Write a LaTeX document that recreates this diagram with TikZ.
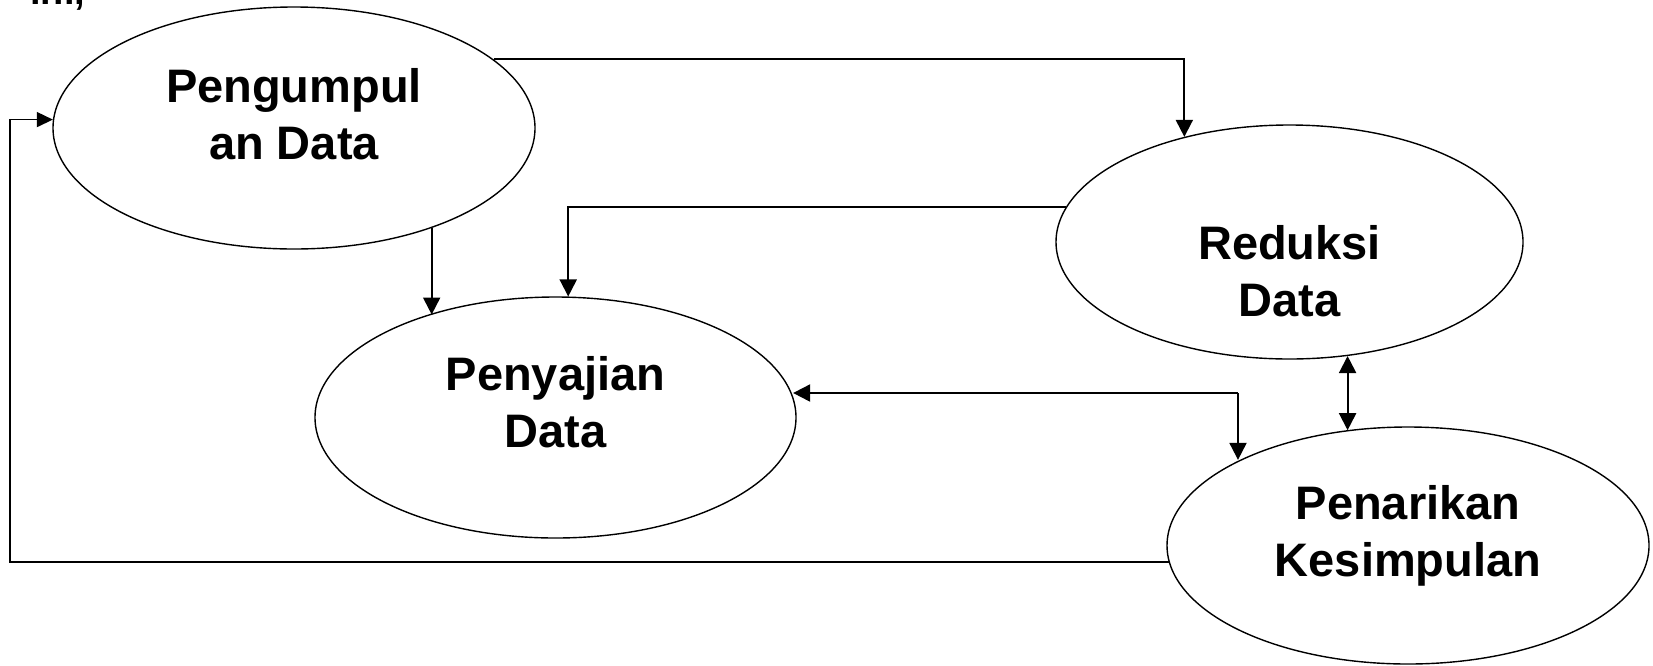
\documentclass[tikz,border=0pt]{standalone}
\usepackage{fontspec}
\setmainfont{Liberation Sans}
\usetikzlibrary{shapes.geometric,arrows.meta}
\begin{document}
\begin{tikzpicture}[x=0.5pt,y=-0.5pt,
  bubble/.style={draw,ellipse,line width=0.7pt,inner sep=0pt},
  lbl/.style={anchor=base,inner sep=0pt,font=\bfseries\fontsize{23.5}{28}\selectfont},
  tip/.style={Triangle[length=8.5pt,width=8.5pt]},
  conn/.style={line width=1pt,-{Triangle[length=8.5pt,width=8.5pt]}},
  dconn/.style={line width=1pt,{Triangle[length=8.5pt,width=8.5pt]}-{Triangle[length=8.5pt,width=8.5pt]}},
  plain/.style={line width=0.75pt}]
\useasboundingbox (0,0) rectangle (1653,665);
\clip (0,0) rectangle (1653,665);
\fill[white] (0,0) rectangle (1653,665);

\node[anchor=base west,inner sep=0pt,font=\bfseries\fontsize{19}{22}\selectfont] (ini) at (30,4) {ini,};

\node[bubble,minimum width=482pt*0.5,minimum height=242pt*0.5] (e1) at (294,128) {};
\node[bubble,minimum width=467pt*0.5,minimum height=234pt*0.5] (e2) at (1289.5,242) {};
\node[bubble,minimum width=481pt*0.5,minimum height=241pt*0.5] (e3) at (555.5,417.5) {};
\node[bubble,minimum width=482pt*0.5,minimum height=237pt*0.5] (e4) at (1408,545.5) {};

\node[lbl] (t1a) at (294,102) {Pengumpul};
\node[lbl] (t1b) at (294,159) {an Data};
\node[lbl] (t2a) at (1289.5,259) {Reduksi};
\node[lbl] (t2b) at (1289.5,316) {Data};
\node[lbl] (t3a) at (555.5,390) {Penyajian};
\node[lbl] (t3b) at (555.5,447) {Data};
\node[lbl] (t4a) at (1408,519) {Penarikan};
\node[lbl] (t4b) at (1408,576) {Kesimpulan};

\coordinate (j) at (1238,393);
\coordinate (fb) at (10,0);

% Pengumpulan -> Reduksi
\draw[conn] (e1.19.2) -| (e2.135.7);
% Reduksi -> Penyajian
\draw[conn] (e2.171.9) -| (e3.84.1);
% Pengumpulan -> Penyajian
\draw[conn] (e1.-36.5) -- (e1.-36.5 |- e3.141);
% junction -> Penyajian and Penarikan
\draw[conn] (j) -- (j -| e3.5.94);
\draw[conn] (j) -- (j |- e4.153.4);
% Reduksi <-> Penarikan
\draw[dconn] (e2.-63) -- (e2.-63 |- e4.118.05);
% Penarikan -> Pengumpulan (feedback)
\draw[plain,-{Triangle[length=8pt,width=7.5pt]}] (e4.184.2) -- (e4.184.2 -| fb) |- (e1.178.57);
\end{tikzpicture}
\end{document}
